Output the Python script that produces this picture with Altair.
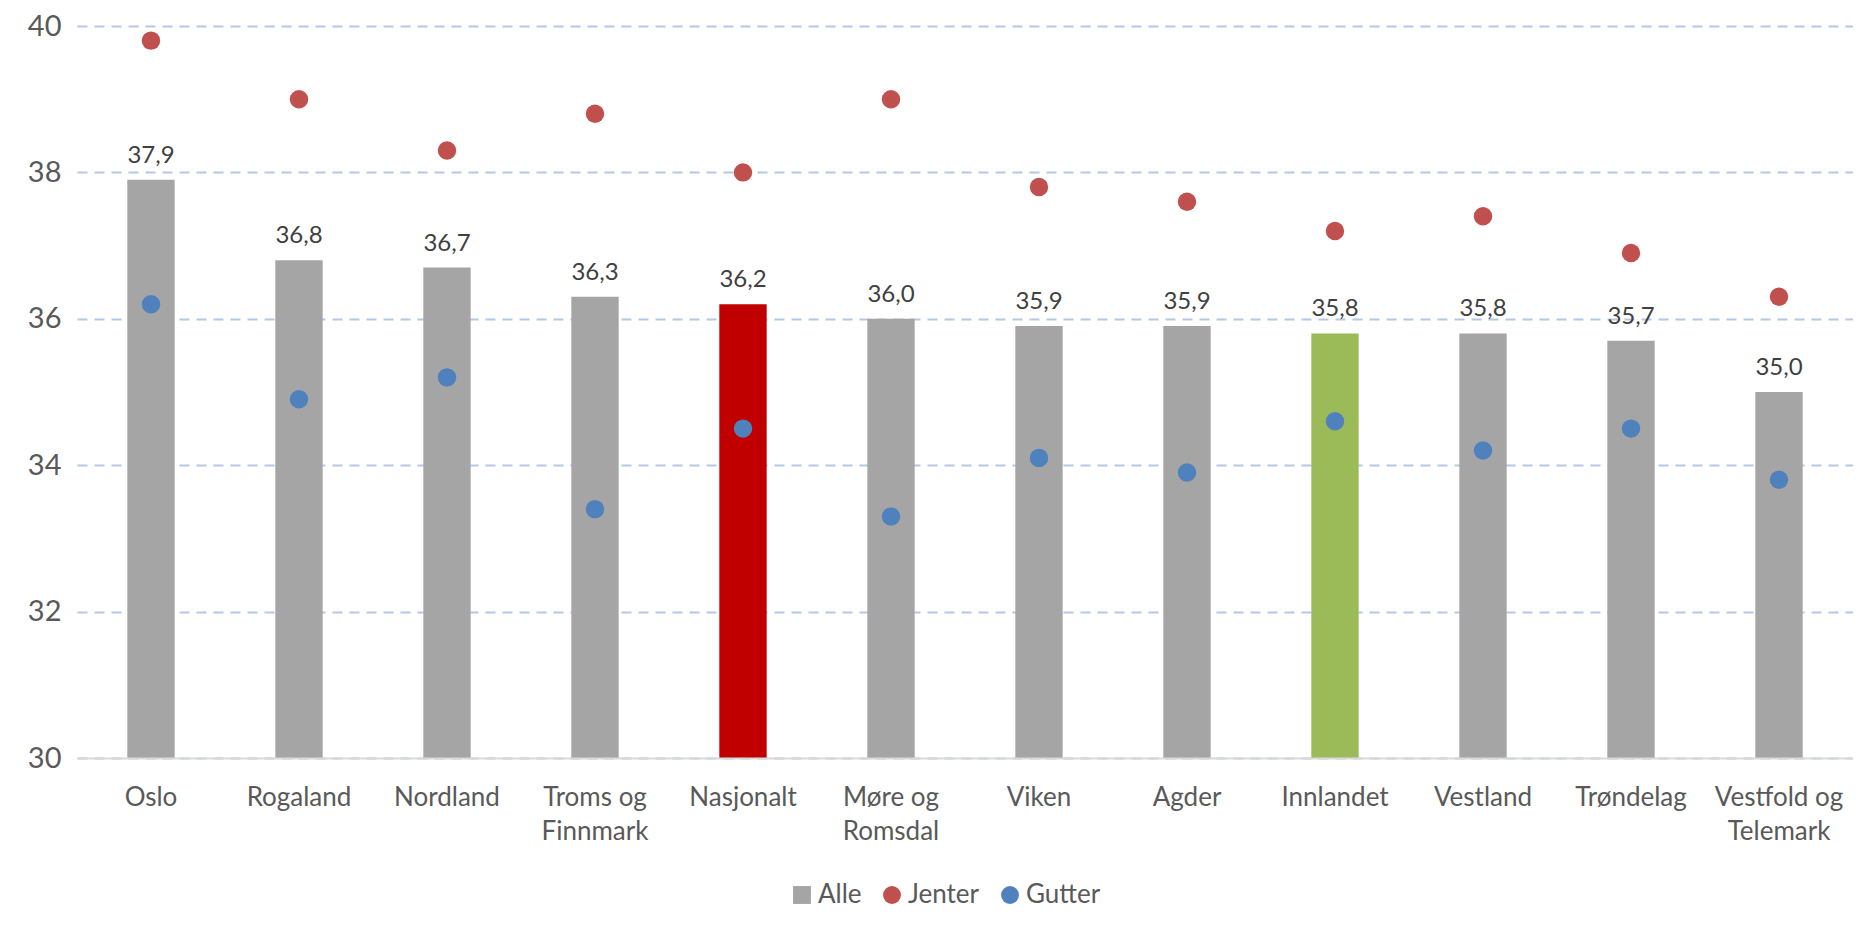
import altair as alt
import pandas as pd

regions = ["Oslo", "Rogaland", "Nordland", "Troms og Finnmark", "Nasjonalt",
           "Møre og Romsdal", "Viken", "Agder", "Innlandet", "Vestland",
           "Trøndelag", "Vestfold og Telemark"]
alle = [37.9, 36.8, 36.7, 36.3, 36.2, 36.0, 35.9, 35.9, 35.8, 35.8, 35.7, 35.0]
jenter = [39.8, 39.0, 38.3, 38.8, 38.0, 39.0, 37.8, 37.6, 37.2, 37.4, 36.9, 36.3]
gutter = [36.2, 34.9, 35.2, 33.4, 34.5, 33.3, 34.1, 33.9, 34.6, 34.2, 34.5, 33.8]
series = ["Alle", "Jenter", "Gutter"]
y_ticks = [30, 32, 34, 36, 38, 40]

FONT = "Lato"

bars_df = pd.DataFrame({
    "region": regions,
    "alle": alle,
    "lbl": [f"{v:.1f}".replace(".", ",") for v in alle],
})
pts_df = pd.DataFrame({
    "region": regions * 2,
    "verdi": jenter + gutter,
    "serie": ["Jenter"] * len(regions) + ["Gutter"] * len(regions),
})

x_enc = alt.X(
    "region:N", sort=regions, title=None,
    scale=alt.Scale(paddingInner=0.68, paddingOuter=0.34),
    axis=alt.Axis(
        labelAngle=0, ticks=False, domain=True, domainColor="#D9D9D9",
        domainWidth=2, labelFontSize=26, labelColor="#595959", labelFont=FONT,
        labelPadding=26, labelLineHeight=34, labelBaseline="top",
        labelExpr="indexof(datum.label,' og ')>0 ? [slice(datum.label,0,indexof(datum.label,' og ')+3), slice(datum.label,indexof(datum.label,' og ')+4)] : datum.label",
        zindex=2,
    ),
)
y_scale = alt.Scale(domain=[30, 40], nice=False, zero=False)

bars = alt.Chart(bars_df).mark_bar(clip=True).encode(
    x=x_enc,
    y=alt.Y("alle:Q", scale=y_scale, title=None,
            axis=alt.Axis(values=y_ticks, format="d", ticks=False, domain=False,
                          labelFontSize=29, labelColor="#595959", labelFont=FONT,
                          labelPadding=16, grid=True, gridColor="#B4C7E7",
                          gridDash=[10, 7], gridWidth=1.8)),
    y2=alt.datum(30),
    color=alt.when(alt.datum.region == "Nasjonalt").then(alt.value("#C00000"))
             .when(alt.datum.region == "Innlandet").then(alt.value("#9BBB59"))
             .otherwise(alt.value("#A5A5A5")),
)

labels = alt.Chart(bars_df).mark_text(
    baseline="middle", dy=-24, fontSize=24, color="#404040", font=FONT
).encode(
    x=alt.X("region:N", sort=regions),
    y=alt.Y("alle:Q", scale=y_scale),
    text="lbl:N",
)

points = alt.Chart(pts_df).mark_point(filled=True, opacity=1, size=340).encode(
    x=alt.X("region:N", sort=regions),
    y=alt.Y("verdi:Q", scale=y_scale),
    color=alt.Color("serie:N",
                    scale=alt.Scale(domain=series, range=["#A5A5A5", "#C0504D", "#4F81BD"]),
                    legend=alt.Legend(title=None, orient="none", legendX=712, legendY=856,
                                      direction="horizontal", labelFontSize=26,
                                      labelColor="#595959", labelFont=FONT,
                                      symbolSize=320, columnPadding=17,
                                      symbolOffset=0, labelOffset=3)),
    shape=alt.Shape("serie:N",
                    scale=alt.Scale(domain=series, range=["square", "circle", "circle"]),
                    legend=None),
)

chart = alt.layer(bars, labels, points).properties(
    width=1776, height=732,
    background="white",
    padding={"left": 69, "top": 18, "right": 0, "bottom": 165},
    autosize=alt.AutoSizeParams(type="none"),
).configure_view(strokeWidth=0, stroke="transparent").configure_axisY(
    domain=False
)

chart.save("out.html", embed_options={"renderer": "svg", "actions": False})
